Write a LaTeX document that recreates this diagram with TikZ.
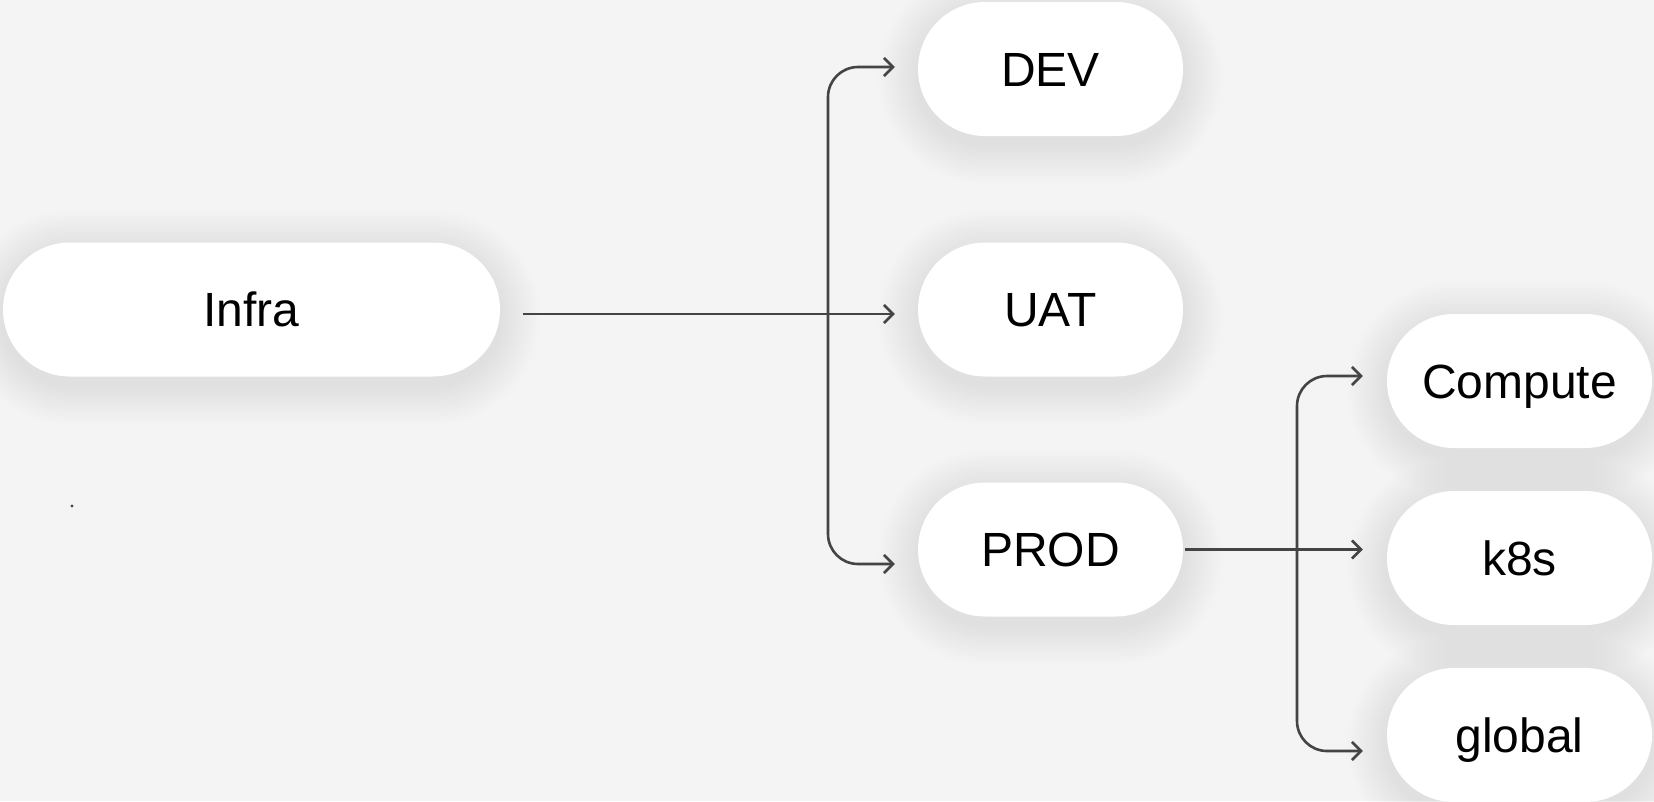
\documentclass[tikz,border=0pt]{standalone}
\usepackage{fontspec}
\setmainfont{Liberation Sans}
\usetikzlibrary{arrows.meta,calc}
\pgfdeclarelayer{bg}
\pgfsetlayers{bg,main}
\definecolor{bgc}{HTML}{F4F4F4}
\definecolor{linec}{HTML}{444444}
\tikzset{
  pill/.style={draw=none, fill=white, rounded corners=67pt, minimum height=134pt,
    inner sep=0pt, text height=34.4pt, text depth=0pt,
    font=\fontsize{48}{56}\selectfont, text=black},
  conn/.style={draw=linec, line width=2.6pt, rounded corners=30pt},
  tipend/.style={-{Straight Barb[length=9pt,width=18pt]}},
  tipboth/.style={{Straight Barb[length=9pt,width=18pt]}-{Straight Barb[length=9pt,width=18pt]}}
}
\begin{document}
\begin{tikzpicture}[x=1pt,y=-1pt]
\useasboundingbox (0,0) rectangle (1654,801);

\node[pill, minimum width=497pt] (infra) at (251.5,309.5) {Infra};
\node[pill, minimum width=265pt] (dev) at (1050.5,69) {DEV};
\node[pill, minimum width=265pt] (uat) at (1050.5,309.5) {UAT};
\node[pill, minimum width=265pt] (prod) at (1050.5,549.5) {PROD};
\node[pill, minimum width=265pt] (compute) at (1519.5,381) {Compute};
\node[pill, minimum width=265pt] (k8s) at (1519.5,558) {k8s};
\node[pill, minimum width=265pt] (global) at (1519.5,735) {global};

\coordinate (trunkA) at (828,300);
\coordinate (trunkB) at (1297,550);

\coordinate (infraout) at ([xshift=23pt,yshift=-4.5pt]infra.east);
\coordinate (uatin) at ([xshift=-23pt,yshift=-4.5pt]uat.west);
\draw[conn,tipend] (infraout) -- (uatin);

\coordinate (devin) at ([xshift=-23pt,yshift=2pt]dev.west);
\coordinate (prodin) at ([xshift=-23pt,yshift=-14.5pt]prod.west);
\draw[conn,tipboth] (devin) -- (devin -| trunkA) -- (prodin -| trunkA) -- (prodin);

\coordinate (k8sx) at ([xshift=-24pt]k8s.west);
\draw[conn,tipend] ([xshift=2pt]prod.east) -- (k8sx |- prod.east);

\coordinate (compin) at ([xshift=-24pt,yshift=5pt]compute.west);
\coordinate (globin) at ([xshift=-24pt,yshift=-16pt]global.west);
\draw[conn,tipboth] (compin) -- (compin -| trunkB) -- (globin -| trunkB) -- (globin);

\fill[linec] (72,506) circle (1.6pt);

\begin{pgfonlayer}{bg}
\fill[bgc] (0,0) rectangle (1654,801);
\foreach \n in {infra,dev,uat,prod,compute,k8s,global}{
  \foreach \i in {1,...,20}{
    \pgfmathsetmacro\dd{2*\i}
    \pgfmathsetmacro\rr{67+2*\i}
    \fill[black,opacity=0.0035,rounded corners=\rr pt]
      ([xshift=-\dd pt, yshift=\dd pt-8pt]\n.north west) rectangle
      ([xshift=\dd pt, yshift=-\dd pt-8pt]\n.south east);
  }
}
\end{pgfonlayer}
\end{tikzpicture}
\end{document}
